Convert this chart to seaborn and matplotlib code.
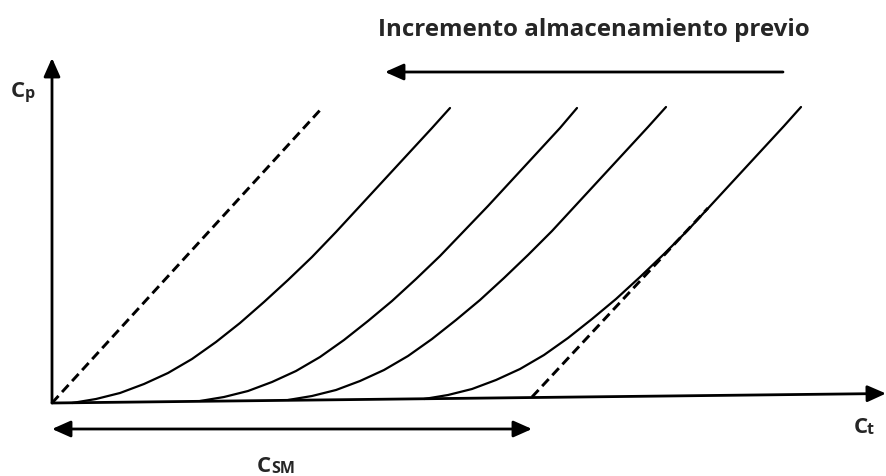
import matplotlib
matplotlib.use("Agg")
import matplotlib.pyplot as plt
import seaborn as sns

# schematic curves (Ct, Cp in drawing units)
c1_x = [20, 44, 68, 92, 116, 140, 164, 188, 212, 236, 260, 284, 308, 332, 356, 380, 398]
c1_y = [0, 4, 10, 19, 30, 44, 61, 80, 101, 123, 146, 171, 197, 223, 249, 275, 295]
c2_x = [148, 172, 196, 220, 244, 268, 292, 316, 340, 364, 388, 412, 436, 460, 484, 508, 525]
c2_y = [2, 6, 12, 21, 32, 46, 63, 82, 102, 124, 147, 172, 197, 223, 249, 275, 295]
c3_x = [236, 260, 284, 308, 332, 356, 380, 404, 428, 452, 476, 500, 524, 548, 572, 596, 614]
c3_y = [3, 7, 13, 22, 33, 47, 64, 83, 103, 125, 148, 172, 198, 224, 250, 276, 296]
c4_x = [372, 396, 420, 444, 468, 492, 516, 540, 564, 588, 612, 636, 660, 684, 708, 732, 749]
c4_y = [4, 8, 14, 23, 34, 48, 65, 84, 104, 126, 149, 173, 199, 225, 251, 277, 296]

dash1_x = [0, 270]
dash1_y = [0, 295]
dash2_x = [480, 656]
dash2_y = [6, 195]

axis_x_end = (834, 9.5)
axis_y_end = (0, 345)
shift_arrow = [(731, 331), (333, 331)]
csm_arrow = [(0, -26), (480, -26)]

title = "Incremento almacenamiento previo"

sns.set_theme(style="white")
plt.rcParams["font.family"] = ["Open Sans", "DejaVu Sans"]

fig = plt.figure(figsize=(8.86, 4.76), dpi=100)
ax = fig.add_axes([0, 0, 1, 1])
ax.set_xlim(-52, 834)
ax.set_ylim(-73, 403)
ax.set_axis_off()

for xs, ys in [(c1_x, c1_y), (c2_x, c2_y), (c3_x, c3_y), (c4_x, c4_y)]:
    sns.lineplot(x=xs, y=ys, ax=ax, color="black", lw=1.6, sort=False, estimator=None,
                 solid_joinstyle="round")

for xs, ys in [(dash1_x, dash1_y), (dash2_x, dash2_y)]:
    sns.lineplot(x=xs, y=ys, ax=ax, color="black", lw=2.1, sort=False, estimator=None,
                 linestyle=(0, (3.3, 1.8)))

head = "-|>,head_length=0.45,head_width=0.2"
arrow_kw = dict(arrowstyle=head, mutation_scale=25, lw=2, color="black", shrinkA=0, shrinkB=0)
ax.annotate("", xy=axis_x_end, xytext=(0, 0), arrowprops=arrow_kw)
ax.annotate("", xy=axis_y_end, xytext=(0, 0), arrowprops=arrow_kw)
ax.annotate("", xy=shift_arrow[1], xytext=shift_arrow[0], arrowprops=arrow_kw)
dbl = dict(arrow_kw, arrowstyle="<|-|>,head_length=0.45,head_width=0.2")
ax.annotate("", xy=csm_arrow[1], xytext=csm_arrow[0], arrowprops=dbl)

t = ax.text(542, 373, title, ha="center", va="center", fontsize=15, fontweight="bold")
fig.canvas.draw()
w = t.get_window_extent().width
t.set_fontsize(15 * 432 / w)

# axis labels with subscripts
ax.text(-41, 306, "C", fontsize=16, fontweight="bold", ha="left", va="baseline")
ax.text(-27, 305, "p", fontsize=11.5, fontweight="bold", ha="left", va="baseline")
ax.text(802, -30, "C", fontsize=16, fontweight="bold", ha="left", va="baseline")
ax.text(815, -31, "t", fontsize=11.5, fontweight="bold", ha="left", va="baseline")
ax.text(205, -69, "C", fontsize=16, fontweight="bold", ha="left", va="baseline")
ax.text(219, -70, "SM", fontsize=11.5, fontweight="bold", ha="left", va="baseline")

fig.savefig("out.png", dpi=100, facecolor="white")
